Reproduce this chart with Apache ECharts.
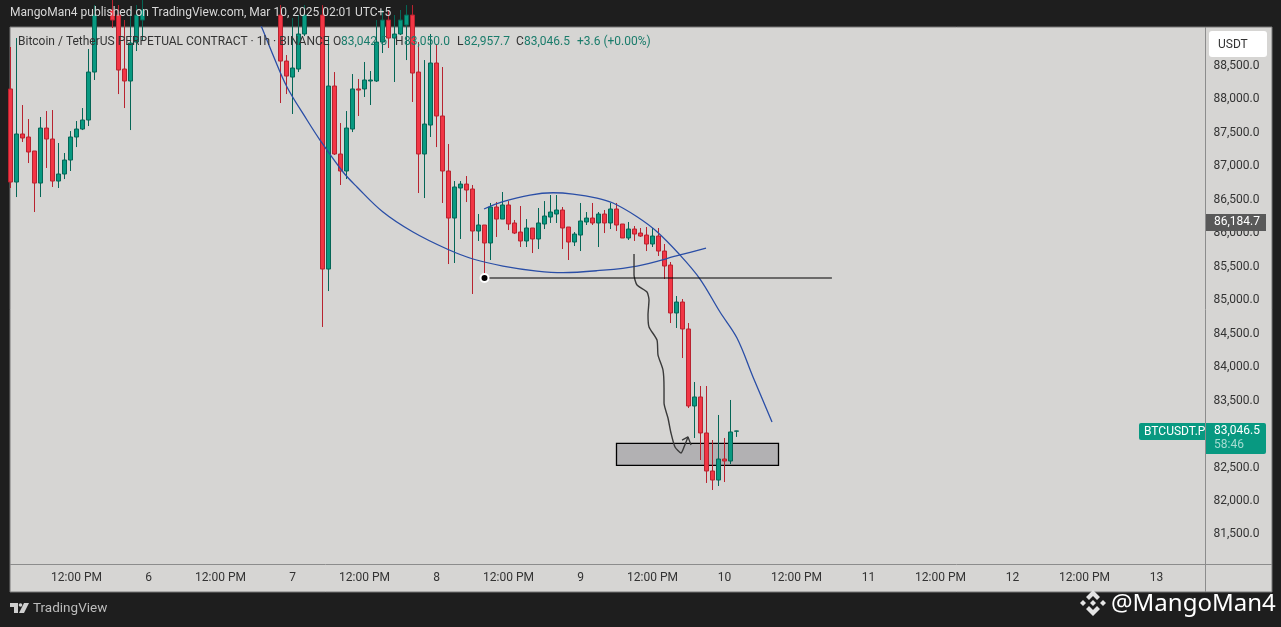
<!DOCTYPE html>
<html>
<head>
<meta charset="utf-8">
<style>html,body{margin:0;padding:0;background:#1e1e1e;overflow:hidden}#c{width:1281px;height:627px}</style>
<script src="https://cdn.jsdelivr.net/npm/echarts@6/dist/echarts.min.js"></script>
</head>
<body>
<div id="c"></div>
<script>
// [open, close, low, high] per hourly bar; null = bar entirely above the visible price range
const candles = [
[88157,86766,86677,88784],[86766,87484,86542,88918],[87484,87424,87364,87917],[87439,87215,87050,87708],
[87230,86751,86318,87230],[86751,87573,86542,87738],[87573,87409,86976,87827],[87409,86781,86692,87842],
[86781,86886,86677,87349],[86886,87095,86811,87200],[87095,87439,86931,87528],[87439,87558,87289,87678],
[87558,87693,87543,87872],[87693,88410,87603,88754],[88410,89262,88291,89411],null,null,
[89337,89187,89068,89486],[89262,88440,88081,89411],[88455,88276,87872,89187],[88276,88843,87543,89337],
[88858,89262,88724,89411],[89187,89337,88873,89486],
null,null,null,null,null,null,null,null,null,null,null,null,null,null,null,null,null,null,null,null,null,null,
[89262,88574,87947,89411],[88574,88350,88081,88664],[88335,88470,87783,89217],[88455,88978,88410,89262],
[88978,89262,88948,89411],null,null,
[89262,85466,84600,89411],[85466,88201,85137,88933],[88201,87185,87170,88410],[87185,86931,86722,87648],
[86931,87573,86811,87827],[87558,88157,87513,88380],[88157,88141,87753,88306],[88157,88291,88037,88560],
[88276,88291,87917,88425],[88276,88858,88261,89187],[88858,89187,88694,89337],[89187,88918,88769,89337],
[88918,88978,88261,89262],[88978,89187,88963,89337],[89112,89262,88589,89411],[89262,88395,87962,89411],
[88410,87185,86602,88858],[87185,87633,86527,88589],[87618,88545,87439,88978],[88545,87753,87289,88814],
[87753,86931,86453,88485],[86931,86228,85541,87334],[86228,86692,85556,86781],[86677,86736,85915,86781],
[86736,86647,86467,86856],[86662,86034,85093,86722],[86034,86124,85885,86288],[86124,85855,85392,86124],
[85855,86393,85601,86453],[86393,86213,85945,86467],[86213,86423,86213,86617],[86423,86139,86049,86482],
[86154,86004,85989,86199],[86019,85885,85795,86408],[85885,86079,85795,86213],[86079,85915,85705,86079],
[85915,86154,85765,86378],[86139,86258,86064,86482],[86243,86318,86154,86572],[86288,86348,86154,86572],
[86348,86079,85765,86393],[86094,85870,85601,86094],[85870,85989,85810,86019],[85974,86184,85735,86453],
[86169,86228,86124,86318],[86228,86154,86124,86453],[86154,86288,85795,86318],[86288,86154,86004,86348],
[86154,86363,86064,86453],[86363,86124,86034,86453],[86139,85930,85930,86139],[85930,86064,85900,86169],
[86064,85989,85885,86109],[86004,85959,85945,86079],[85974,85840,85735,86094],[85840,85959,85795,86079],
[85959,85735,85661,86079],[85735,85511,85317,85840],[85526,84809,84659,85571],[84809,84973,84585,85063],
[84973,84570,84136,85018],[84570,83419,83389,84659],[83419,83554,82941,83778],[83554,83016,82612,83718],
[83016,82448,82269,83718],[82448,82313,82164,82911],[82313,82627,82224,83285],[82627,82597,82283,82941],
[82597,83031,82552,83509],[83042,83046.5,82957,83050]
];
// time axis: bar index -> label
const timeTicks = {11:'12:00 PM',23:'6',35:'12:00 PM',47:'7',59:'12:00 PM',71:'8',83:'12:00 PM',95:'9',107:'12:00 PM',119:'10',131:'12:00 PM',143:'11',155:'12:00 PM',167:'12',179:'12:00 PM',191:'13'};
const barCount = 200;
const priceTicks = [81500,82000,82500,83000,83500,84000,84500,85000,85500,86000,86500,87000,87500,88000,88500];
const priceMin = 81058, priceMax = 89083;
const lastPrice = 83046.5, otherPrice = 86184.7;
// drawings, as [bar position, price]
const bowlCurve = [[41.08,89232],[41.92,89068],[43.75,88664],[46.08,88186],[49.42,87693],[51.58,87394],[55.42,86916],[57.75,86692],[62.08,86318],[67.08,86019],[72.75,85765],[77.08,85616],[82.08,85511],[87.75,85436],[92.08,85411],[97.75,85441],[104.42,85511],[111.58,85676],[115.92,85780]];
const arcCurve = [[78.92,86363],[82.08,86472],[86.58,86572],[90.42,86606],[93.75,86587],[97.75,86527],[100.42,86453],[104.42,86248],[107.75,86024],[111.58,85676],[114.92,85317],[118.25,84824],[121.08,84435],[123.75,83853],[126.92,83180]];
const handLine = [[103.92,85690],[103.92,85377],[104.42,85227],[106.08,85123],[106.42,85003],[106.25,84779],[106.42,84600],[107.75,84406],[107.92,84181],[108.75,83957],[108.92,83688],[108.92,83464],[109.58,83240],[110.08,83016],[110.75,82806],[111.75,82717],[112.25,82806],[112.92,82956]];
const handArrow = [[111.92,82911],[112.92,82956],[113.42,82836]];
const breakdownPrice = 85332, breakdownFrom = 79, breakdownTo = 136.9;
const zoneBars = [101,128], zonePrices = [82862,82533];

const FONT = 'Roboto';
const BG = '#d6d5d3';
const fmt = v => v.toLocaleString('en-US',{minimumFractionDigits:1,maximumFractionDigits:1});
const categories = Array.from({length:barCount},(_,i)=>String(i));
const lineBase = {type:'line',xAxisIndex:1,yAxisIndex:0,showSymbol:false,silent:true,animation:false,clip:true};

const chart = echarts.init(document.getElementById('c'),null,{renderer:'canvas'});
const txt = (x,y,text,fill,size,extra)=>Object.assign({type:'text',z:100,x,y,style:Object.assign({text,fill,font:(size||12)+'px '+FONT,textVerticalAlign:'middle'},extra||{})});
const poly = (pts,fill)=>({type:'polygon',z:100,shape:{points:pts},style:{fill}});
const legendGreen = '#1a7c6b', legendDark = '#333';

chart.setOption({
  animation:false,
  backgroundColor:'#1e1e1e',
  grid:{left:10.5,width:1194,top:27,height:537},
  xAxis:[
    {type:'category',data:categories,boundaryGap:false,axisLine:{show:false},axisTick:{show:false},splitLine:{show:false},
     axisLabel:{show:true,interval:(i)=>timeTicks[i]!==undefined,formatter:(v)=>timeTicks[v]||'',color:'#333',fontFamily:FONT,fontSize:12,margin:8,hideOverlap:false}},
    {type:'value',min:0,max:barCount-1,show:false}
  ],
  yAxis:[{type:'value',position:'right',min:priceMin,max:priceMax,scale:true,splitLine:{show:false},axisLine:{show:false},axisTick:{show:false},
    axisLabel:{customValues:priceTicks,formatter:fmt,color:'#333',fontFamily:FONT,fontSize:12,margin:9,align:'left'}}],
  series:[
    {...lineBase,name:'zone',z:1,data:[],markArea:{silent:true,itemStyle:{color:'#b2b1b3',borderColor:'#000',borderWidth:1.3},
      data:[[{coord:[zoneBars[0],zonePrices[0]]},{coord:[zoneBars[1],zonePrices[1]]}]]}},
    {type:'candlestick',xAxisIndex:0,yAxisIndex:0,z:3,barWidth:5,silent:true,
      data:candles.map(c=>c||['-','-','-','-']),
      itemStyle:{color:'#089981',color0:'#F23645',borderColor:'#056656',borderColor0:'#b8232f',borderWidth:1}},
    {...lineBase,name:'bowl',z:4,smooth:0.35,data:bowlCurve,lineStyle:{color:'#2a4ea6',width:1.3}},
    {...lineBase,name:'arc',z:4,smooth:0.35,data:arcCurve,lineStyle:{color:'#2a4ea6',width:1.3}},
    {...lineBase,name:'hand',z:5,smooth:0.2,data:handLine,lineStyle:{color:'#3a3a3a',width:1.4}},
    {...lineBase,name:'arrow',z:5,data:handArrow,lineStyle:{color:'#3a3a3a',width:1.4}},
    {...lineBase,name:'breakdown',z:6,showSymbol:true,clip:false,lineStyle:{color:'#000',width:1.2},
      data:[
        {value:[breakdownFrom,breakdownPrice],symbol:'circle',symbolSize:8,itemStyle:{color:'#000',borderColor:'#fff',borderWidth:2}},
        {value:[breakdownTo,breakdownPrice],symbol:'none',label:{show:true,position:'right',distance:0,formatter:'Breakdown',color:'#111',fontFamily:FONT,fontSize:12,
          backgroundColor:'#fff',borderRadius:3,padding:[5,8,5,8],shadowColor:'rgba(0,0,0,0.2)',shadowBlur:2}}
      ]}
  ]
});

const py = p => chart.convertToPixel({yAxisIndex:0},p);
const lastY = py(lastPrice), otherY = py(otherPrice);
const legendY = 42;
chart.setOption({graphic:{elements:[
  {type:'rect',z:-10,shape:{x:10,y:27,width:1262,height:565},style:{fill:BG,stroke:'#777',lineWidth:1}},
  {type:'line',z:-9,shape:{x1:10,y1:564.5,x2:1272,y2:564.5},style:{stroke:'#8c8c8c',lineWidth:1}},
  {type:'line',z:-9,shape:{x1:1205.5,y1:27,x2:1205.5,y2:592},style:{stroke:'#8c8c8c',lineWidth:1}},
  // header
  txt(10,13,'MangoMan4 published on TradingView.com, Mar 10, 2025 02:01 UTC+5','#d8d8d8',12),
  // legend
  txt(18,legendY,'Bitcoin / TetherUS PERPETUAL CONTRACT · 1h · BINANCE',legendDark,12),
  txt(333,legendY,'O',legendDark,12),txt(341,legendY,'83,042.5',legendGreen,12),
  txt(395,legendY,'H',legendDark,12),txt(404,legendY,'83,050.0',legendGreen,12),
  txt(457,legendY,'L',legendDark,12),txt(464,legendY,'82,957.7',legendGreen,12),
  txt(516,legendY,'C',legendDark,12),txt(524,legendY,'83,046.5',legendGreen,12),
  txt(577,legendY,'+3.6 (+0.00%)',legendGreen,12),
  // USDT box
  {type:'rect',z:100,shape:{x:1209,y:31,width:58,height:26,r:3},style:{fill:'#fff'}},
  txt(1218,45,'USDT','#333',12),
  // price tags
  {type:'rect',z:100,shape:{x:1206,y:otherY-7,width:60,height:17},style:{fill:'#595959'}},
  txt(1214,otherY+1.5,fmt(otherPrice),'#fff',12),
  {type:'rect',z:100,shape:{x:1139,y:lastY-8,width:66,height:17,r:[2,0,0,2]},style:{fill:'#089981'}},
  txt(1144,lastY+1,'BTCUSDT.P','#fff',12),
  {type:'rect',z:100,shape:{x:1206,y:lastY-8,width:60,height:31,r:[0,2,2,0]},style:{fill:'#089981'}},
  txt(1214,lastY+0.5,fmt(lastPrice),'#fff',12),
  txt(1214,lastY+14.5,'58:46','#a5dcd1',12),
  // TradingView logo
  poly([[10,603],[18,603],[18,613],[14,613],[14,607],[10,607]],'#cfcfcf'),
  {type:'circle',z:100,shape:{cx:20.5,cy:605,r:1.8},style:{fill:'#cfcfcf'}},
  poly([[24,603],[29,603],[24,613],[19,613]],'#cfcfcf'),
  txt(33,609,'TradingView','#bdbdbd',13.5),
  // watermark
  poly([[1093,590],[1100,597],[1097,600],[1093,596],[1089,600],[1086,597]],'#e4e4e4'),
  poly([[1093,616],[1100,609],[1097,606],[1093,610],[1089,606],[1086,609]],'#e4e4e4'),
  poly([[1083,600],[1086,603],[1083,606],[1080,603]],'#e4e4e4'),
  poly([[1103,600],[1106,603],[1103,606],[1100,603]],'#e4e4e4'),
  poly([[1093,600],[1096,603],[1093,606],[1090,603]],'#e4e4e4'),
  txt(1111,604,'@MangoMan4','#ffffff',24,{font:'24px "Noto Sans"'})
]}});
</script>
</body>
</html>
